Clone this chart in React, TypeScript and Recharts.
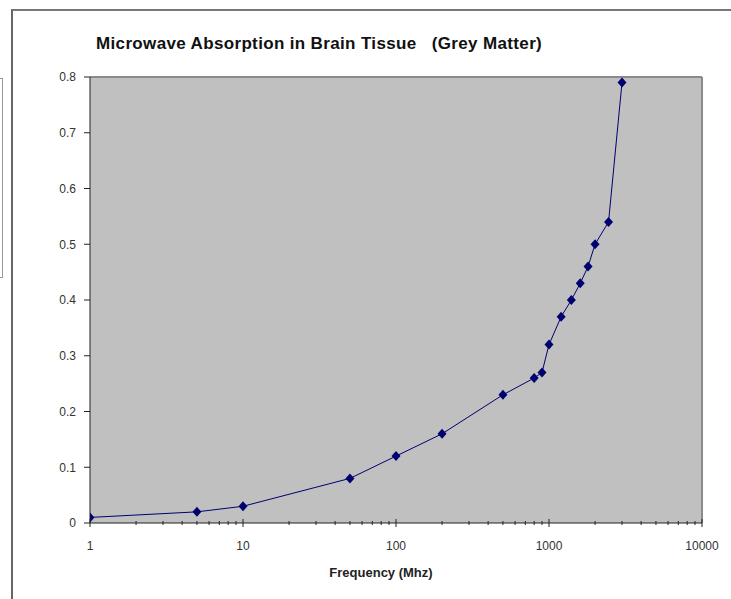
import React from 'react';
import { LineChart, Line, XAxis, YAxis, CartesianGrid, ReferenceLine } from 'recharts';

// Frequency (MHz) and absorption
const frequencies = [1, 5, 10, 50, 100, 200, 500, 800, 900, 1000, 1200, 1400, 1600, 1800, 2000, 2450, 3000];
const absorption = [0.01, 0.02, 0.03, 0.08, 0.12, 0.16, 0.23, 0.26, 0.27, 0.32, 0.37, 0.40, 0.43, 0.46, 0.50, 0.54, 0.79];

const xMajorTicks = [1, 10, 100, 1000, 10000];
const xMinorSteps = [2, 3, 4, 5, 6, 7, 8, 9];
const yTicks = [0, 0.1, 0.2, 0.3, 0.4, 0.5, 0.6, 0.7, 0.8];

const data = frequencies.map((f, i) => ({ freq: f, value: absorption[i] }));

const xTicks: number[] = [];
xMajorTicks.forEach((m, i) => {
  xTicks.push(m);
  if (i < xMajorTicks.length - 1) xMinorSteps.forEach((s) => xTicks.push(m * s));
});

const FONT = '"Liberation Sans", Arial, sans-serif';
const NAVY = '#000070';

const XTick = (props: any) => {
  const { x, y, payload } = props;
  const v = payload.value;
  const major = xMajorTicks.includes(v);
  return (
    <g>
      <line x1={x} x2={x} y1={major ? y - 4 : y - 2} y2={major ? y + 4 : y + 2} stroke="#222" strokeWidth={1} />
      {major && (
        <text x={x} y={y + 27} textAnchor="middle" fontSize={12} fill="#333" fontFamily={FONT}>
          {v}
        </text>
      )}
    </g>
  );
};

const Diamond = (props: any) => {
  const { cx, cy, index } = props;
  if (cx == null || cy == null) return <g key={index} />;
  return (
    <path
      key={index}
      d={`M${cx},${cy - 5} L${cx + 4.5},${cy} L${cx},${cy + 5} L${cx - 4.5},${cy} Z`}
      fill={NAVY}
    />
  );
};

const App = () => {
  return (
    <div style={{ position: 'absolute', left: 0, top: 0, width: 731, height: 599, background: '#fff', overflow: 'hidden', fontFamily: FONT }}>
      {/* cut-off box at the left edge */}
      <div style={{ position: 'absolute', left: -6, top: 78, width: 7, height: 198, border: '1px solid #999' }} />
      {/* outer frame */}
      <div style={{ position: 'absolute', left: 11, top: 9, width: 740, height: 620, borderLeft: '2px solid #666', borderTop: '2px solid #777' }} />
      <div style={{ position: 'absolute', left: 96, top: 34, fontSize: 17, letterSpacing: 0.35, fontWeight: 'bold', color: '#111', whiteSpace: 'pre' }}>
        {'Microwave Absorption in Brain Tissue   (Grey Matter)'}
      </div>
      <div style={{ position: 'absolute', left: 281, width: 200, top: 565, textAlign: 'center', fontSize: 13, fontWeight: 'bold', color: '#222' }}>
        Frequency (Mhz)
      </div>
      <div style={{ position: 'absolute', left: 0, top: 0 }}>
        <LineChart width={731} height={599} data={data} margin={{ top: 77, right: 29, left: 10, bottom: 46 }}>
          <CartesianGrid horizontal={false} vertical={false} fill="#c0c0c0" />
          <ReferenceLine y={0.8} stroke="#8a8a8a" strokeWidth={2} />
          <ReferenceLine x={10000} stroke="#8a8a8a" strokeWidth={2} />
          <XAxis
            dataKey="freq"
            type="number"
            scale="log"
            domain={[1, 10000]}
            ticks={xTicks}
            interval={0}
            tickSize={0}
            tickMargin={0}
            tickLine={false}
            tick={<XTick />}
            axisLine={{ stroke: '#222' }}
            height={30}
            allowDataOverflow
          />
          <YAxis
            type="number"
            domain={[0, 0.8]}
            ticks={yTicks}
            interval={0}
            width={80}
            tickSize={6}
            tickMargin={8}
            tickFormatter={(v: number) => (v === 0 ? '0' : v.toFixed(1))}
            tick={{ fontSize: 12, fill: '#333', fontFamily: FONT }}
            tickLine={{ stroke: '#222' }}
            axisLine={{ stroke: '#222' }}
          />
          <Line
            dataKey="value"
            type="linear"
            stroke={NAVY}
            strokeWidth={1}
            dot={Diamond}
            activeDot={false}
            isAnimationActive={false}
          />
        </LineChart>
      </div>
    </div>
  );
};

export default App;
